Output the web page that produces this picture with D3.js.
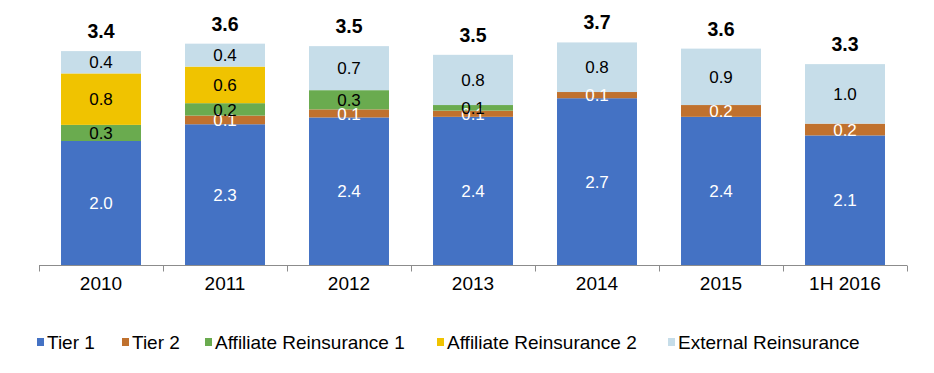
<!DOCTYPE html>
<html>
<head>
<meta charset="utf-8">
<script src="https://cdn.jsdelivr.net/npm/d3@7"></script>
<style>
  html, body { margin: 0; padding: 0; background: #fff; }
  svg { display: block; font-family: Arial, "Liberation Sans", sans-serif; }
</style>
</head>
<body>
<svg id="chart" width="934" height="373"></svg>
<script>
// ---- data ----
const categories = ["2010", "2011", "2012", "2013", "2014", "2015", "1H 2016"];
const seriesNames = ["Tier 1", "Tier 2", "Affiliate Reinsurance 1", "Affiliate Reinsurance 2", "External Reinsurance"];
const tier1 = [2.0, 2.27, 2.38, 2.39, 2.69, 2.39, 2.09];
const tier2 = [0, 0.14, 0.13, 0.1, 0.1, 0.19, 0.19];
const affiliate1 = [0.26, 0.2, 0.31, 0.09, 0, 0, 0];
const affiliate2 = [0.83, 0.59, 0, 0, 0, 0, 0];
const external = [0.36, 0.37, 0.71, 0.81, 0.8, 0.91, 0.96];
const totals = ["3.4", "3.6", "3.5", "3.5", "3.7", "3.6", "3.3"];

// ---- styles ----
const colors = ["#4472C4", "#C0712E", "#6AAB4F", "#F0C300", "#C6DDE9"];
const labelColors = ["#fff", "#fff", "#000", "#000", "#000"];

const rows = categories.map((c, i) => ({
  cat: c,
  "Tier 1": tier1[i],
  "Tier 2": tier2[i],
  "Affiliate Reinsurance 1": affiliate1[i],
  "Affiliate Reinsurance 2": affiliate2[i],
  "External Reinsurance": external[i],
  total: totals[i]
}));

const svg = d3.select("#chart");
const x = d3.scaleBand().domain(categories).range([39, 907]).paddingInner(0.355).paddingOuter(0.1775);
const y = d3.scaleLinear().domain([0, 4]).range([265, 17]);

const stacked = d3.stack().keys(seriesNames)(rows);

const groups = svg.append("g").selectAll("g").data(stacked).join("g")
  .attr("fill", (d, i) => colors[i]);

groups.selectAll("rect").data(d => d.filter(s => s[1] - s[0] > 0)).join("rect")
  .attr("x", d => x(d.data.cat))
  .attr("width", x.bandwidth())
  .attr("y", d => y(d[1]))
  .attr("height", d => y(d[0]) - y(d[1]));

// segment labels
stacked.forEach((layer, li) => {
  svg.append("g").selectAll("text").data(layer.filter(s => s[1] - s[0] > 0)).join("text")
    .attr("x", d => x(d.data.cat) + x.bandwidth() / 2)
    .attr("y", d => (y(d[0]) + y(d[1])) / 2)
    .attr("dy", "0.36em")
    .attr("text-anchor", "middle")
    .attr("font-size", 17)
    .attr("fill", labelColors[li])
    .text(d => (d[1] - d[0]).toFixed(1));
});

// totals
const topLayer = stacked[stacked.length - 1];
svg.append("g").selectAll("text").data(topLayer).join("text")
  .attr("x", d => x(d.data.cat) + x.bandwidth() / 2)
  .attr("y", d => y(d[1]) - 13)
  .attr("text-anchor", "middle")
  .attr("font-size", 19.5)
  .attr("font-weight", "bold")
  .attr("fill", "#000")
  .text(d => d.data.total);

// axis
const axisG = svg.append("g").attr("transform", `translate(0,${y(0)})`);
axisG.append("line").attr("x1", x.range()[0]).attr("x2", x.range()[1])
  .attr("y1", 0.5).attr("y2", 0.5).attr("stroke", "#8c8c8c").attr("stroke-width", 1);
const gap = (x.step() - x.bandwidth()) / 2;
const tickXs = categories.map(c => x(c) - gap).concat([x.range()[1]]);
axisG.selectAll("line.tick").data(tickXs).join("line").attr("class", "tick")
  .attr("x1", d => Math.round(d) + 0.5).attr("x2", d => Math.round(d) + 0.5)
  .attr("y1", 0.5).attr("y2", 6.5).attr("stroke", "#8c8c8c");
const axis = d3.axisBottom(x).tickSize(0).tickPadding(12);
const ax = svg.append("g").attr("transform", `translate(0,${y(0)})`).call(axis);
ax.select(".domain").remove();
ax.selectAll("text").attr("font-size", 19).attr("fill", "#000").attr("font-family", "Arial, 'Liberation Sans', sans-serif");

// legend
const legendX = [37, 122, 205, 437, 668];
const legend = svg.append("g").selectAll("g").data(seriesNames).join("g")
  .attr("transform", (d, i) => `translate(${legendX[i]},342)`);
legend.append("rect").attr("x", 0).attr("y", -4).attr("width", 7).attr("height", 8)
  .attr("fill", (d, i) => colors[i]);
legend.append("text").attr("x", 10).attr("dy", "0.36em").attr("font-size", 19).attr("fill", "#000")
  .text(d => d);
</script>
</body>
</html>
